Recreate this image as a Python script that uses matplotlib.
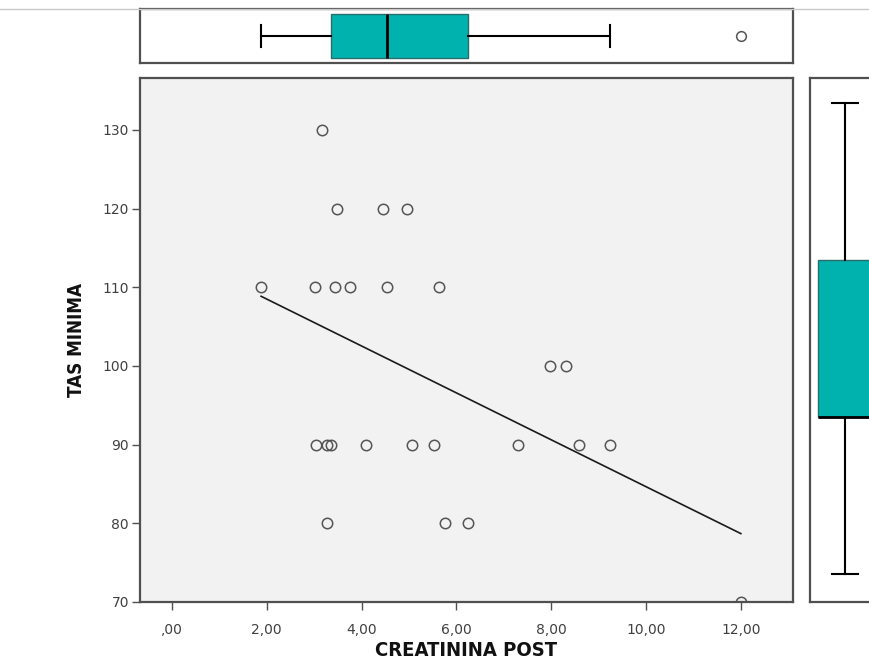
import numpy as np
import matplotlib.pyplot as plt
from matplotlib.ticker import FixedLocator, FuncFormatter

# Datos (CREATININA POST vs TAS MINIMA)
creatinina = [3.16,
              3.48, 4.45, 4.96,
              1.88, 3.02, 3.44, 3.76, 4.54, 5.63,
              7.97, 8.31,
              3.04, 3.27, 3.35, 4.09, 5.06, 5.53, 7.30, 8.59, 9.24,
              3.27, 5.76, 6.24,
              12.00]
tas_minima = [130,
              120, 120, 120,
              110, 110, 110, 110, 110, 110,
              100, 100,
              90, 90, 90, 90, 90, 90, 90, 90, 90,
              80, 80, 80,
              70]
x_ticks = [0, 2, 4, 6, 8, 10, 12]
y_ticks = [70, 80, 90, 100, 110, 120, 130]

x = np.array(creatinina)
y = np.array(tas_minima)


def coma(v, pos):
    s = ('%.2f' % v).replace('.', ',')
    return s[1:] if s.startswith('0') else s


teal = '#00b2ae'
frame = '#505050'
fig = plt.figure(figsize=(8.69, 6.72), dpi=100)
fig.patch.set_facecolor('white')

# Linea gris superior
fig.add_artist(plt.Line2D([0, 1], [1 - 8.5 / 672, 1 - 8.5 / 672], color='#c8c8c8', lw=1))

ax = fig.add_axes([140 / 869, 1 - 602 / 672, 653 / 869, 524 / 672])
ax_top = fig.add_axes([140 / 869, 1 - 63 / 672, 653 / 869, 54 / 672])
ax_right = fig.add_axes([810 / 869, 1 - 602 / 672, 70 / 869, 524 / 672])

# Dispersion
ax.set_facecolor('#f2f2f2')
ax.plot(x, y, 'o', mfc='none', mec='#555555', mew=1.1, ms=7.5, clip_on=True)
b, a = np.polyfit(x, y, 1)
xl = np.array([x.min(), x.max()])
ax.plot(xl, a + b * xl, color='#1a1a1a', lw=1.2)
ax.set_xlim(-0.675, 13.1)
ax.set_ylim(70, 136.6)
ax.xaxis.set_major_locator(FixedLocator(x_ticks))
ax.yaxis.set_major_locator(FixedLocator(y_ticks))
ax.xaxis.set_major_formatter(FuncFormatter(coma))
ax.tick_params(axis='both', direction='out', length=6, width=1, color=frame,
               labelsize=10, labelcolor='#404040')
ax.tick_params(axis='x', pad=9)
ax.tick_params(axis='y', pad=2)
ax.set_xlabel('CREATININA POST', fontsize=14.5, labelpad=3, color='#111111',
              fontstretch='condensed', fontweight='semibold')
ax.set_ylabel('TAS MINIMA', fontsize=13.5, labelpad=12, color='#111111',
              fontstretch='condensed', fontweight='bold')

box_kw = dict(patch_artist=True,
              boxprops=dict(facecolor=teal, edgecolor='#2a6e6c', lw=1),
              medianprops=dict(color='black', lw=2),
              whiskerprops=dict(color='black', lw=1.5),
              capprops=dict(color='black', lw=1.5),
              flierprops=dict(marker='o', mfc='none', mec='#555555', mew=1.1, ms=7))

# Caja superior (creatinina)
ax_top.boxplot(x, vert=False, widths=1.63, positions=[0], **box_kw)
ax_top.set_xlim(ax.get_xlim())
ax_top.set_ylim(-1, 1)

# Caja derecha (TAS minima)
ax_right.boxplot(y, vert=True, widths=1.54, positions=[0], **box_kw)
ax_right.set_ylim(66.4, 133.2)
ax_right.set_xlim(-1, 1)

for a_ in (ax, ax_top, ax_right):
    for s in a_.spines.values():
        s.set_color(frame)
        s.set_linewidth(1.6)
for a_ in (ax_top, ax_right):
    a_.set_xticks([])
    a_.set_yticks([])
    a_.set_facecolor('white')

fig.savefig('out.png', dpi=100)
